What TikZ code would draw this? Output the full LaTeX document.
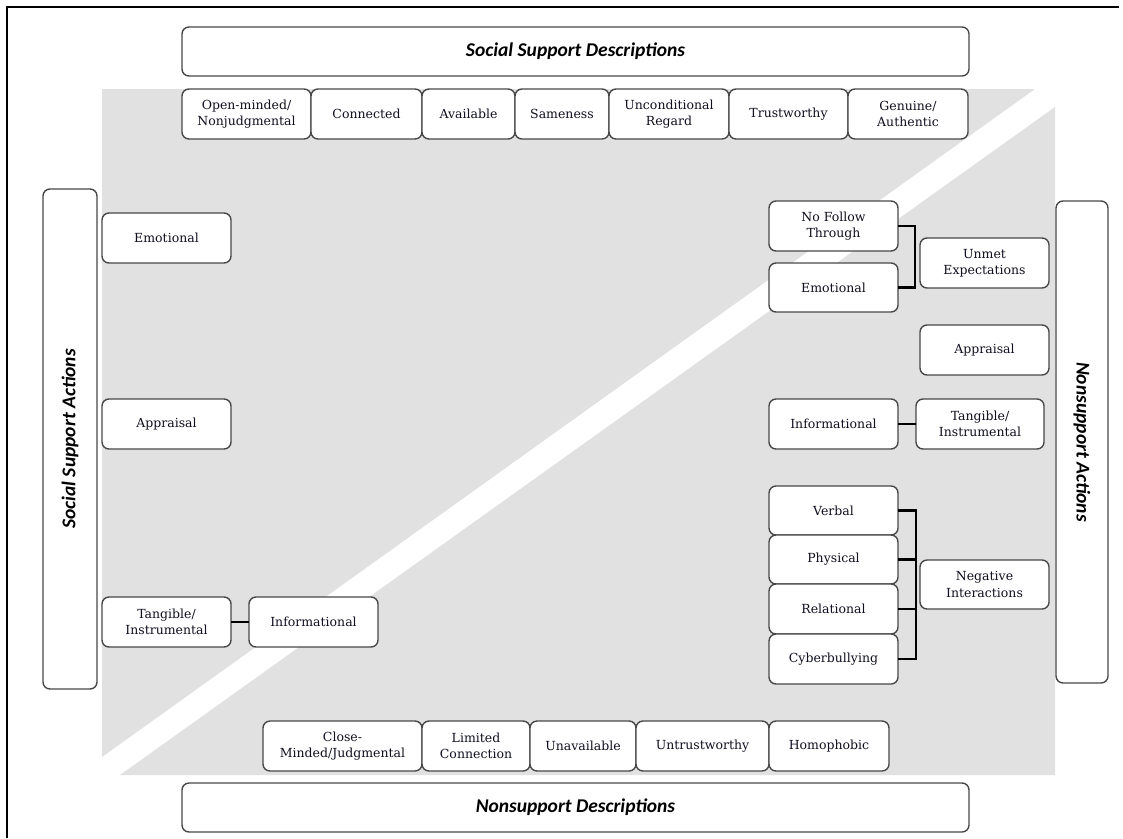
\documentclass[tikz,border=0pt]{standalone}
\usepackage{fontspec}
\setmainfont{DejaVu Serif}
\newfontfamily\headfont{Carlito}
\usetikzlibrary{positioning}
\definecolor{boxline}{HTML}{484848}
\definecolor{fieldgray}{HTML}{E1E1E1}
\definecolor{ink}{HTML}{101020}

\begin{document}
\begin{tikzpicture}[x=1pt,y=-1pt,
  box/.style={draw=boxline, fill=white, line width=1.4pt, rounded corners=7pt,
    align=center, inner sep=2pt, outer sep=0pt, minimum height=50pt,
    text=ink, font=\fontsize{12.5}{16.5}\selectfont},
  head/.style={box, text=black, font=\headfont\bfseries\itshape\fontsize{19.5}{23}\selectfont},
  link/.style={line width=2.6pt, black}]
  \useasboundingbox (0,0) rectangle (1123,838);
  \draw[line width=2.5pt] (7,838) -- (7,7) -- (1119,7);
  % shaded field with the white diagonal band
  \fill[fieldgray] (102,89) -- (1035,89) -- (102,757) -- cycle;
  \fill[fieldgray] (1055,107) -- (1055,775) -- (120,775) -- cycle;

  \node[head, minimum width=787pt, minimum height=49pt] (ssd) at (575.5,51.5) {Social Support Descriptions};
  \node[head, minimum width=787pt, minimum height=49pt] (nsd) at (575.5,807.5) {Nonsupport Descriptions};
  \node[head, rotate=90, minimum width=500pt, minimum height=54pt] (ssa) at (70,439) {Social Support Actions};
  \node[head, rotate=-90, minimum width=482pt, minimum height=52pt] (nsa) at (1082,442) {Nonsupport Actions};

  \node[box, minimum width=129pt] (om) at (246.5,114) {Open-minded/\\Nonjudgmental};
  \node[box, minimum width=111pt, right=0pt of om] (con) {Connected};
  \node[box, minimum width=93pt, right=0pt of con] (ava) {Available};
  \node[box, minimum width=94pt, right=0pt of ava] (same) {Sameness};
  \node[box, minimum width=120pt, right=0pt of same] (ucr) {Unconditional\\Regard};
  \node[box, minimum width=119pt, right=0pt of ucr] (tru) {Trustworthy};
  \node[box, minimum width=120pt, right=0pt of tru] (gen) {Genuine/\\Authentic};

  \node[box, minimum width=159pt] (cmj) at (342.5,746) {Close-\\Minded/Judgmental};
  \node[box, minimum width=108pt, right=0pt of cmj] (lim) {Limited\\Connection};
  \node[box, minimum width=106pt, right=0pt of lim] (una) {Unavailable};
  \node[box, minimum width=133pt, right=0pt of una] (untr) {Untrustworthy};
  \node[box, minimum width=120pt, right=0pt of untr] (hom) {Homophobic};

  \node[box, minimum width=129pt] (emol) at (166.5,238) {Emotional};
  \node[box, minimum width=129pt] (appl) at (166.5,424) {Appraisal};
  \node[box, minimum width=129pt] (tanl) at (166.5,622) {Tangible/\\Instrumental};
  \node[box, minimum width=129pt, right=18pt of tanl] (infl) {Informational};

  \node[box, minimum width=129pt] (nft) at (833.5,226) {No Follow\\Through};
  \node[box, minimum width=129pt, minimum height=49pt] (emor) at (833.5,287.5) {Emotional};
  \node[box, minimum width=129pt] (unm) at (984.5,263) {Unmet\\Expectations};
  \node[box, minimum width=129pt] (appr) at (984.5,350) {Appraisal};
  \node[box, minimum width=129pt] (infr) at (833.5,424) {Informational};
  \node[box, minimum width=128pt, right=18pt of infr] (tanr) {Tangible/\\Instrumental};
  \node[box, minimum width=129pt, minimum height=49pt] (verb) at (833.5,510.5) {Verbal};
  \node[box, minimum width=129pt, minimum height=49pt] (phys) at (833.5,559.5) {Physical};
  \node[box, minimum width=129pt] (rel) at (833.5,609) {Relational};
  \node[box, minimum width=129pt] (cyb) at (833.5,659) {Cyberbullying};
  \node[box, minimum width=129pt, minimum height=49pt] (neg) at (984.5,584.5) {Negative\\Interactions};

  \coordinate (ueb) at (915,257);
  \coordinate (nib) at (916,585);
  \draw[link] (tanl) -- (infl);
  \draw[link] (infr) -- (tanr);
  \draw[link] (nft.east) -| (ueb) |- (emor.east);
  \draw[link] (verb.east) -| (nib) |- (cyb.east);
  \draw[link] (phys.east) -- (phys.east -| nib);
  \draw[link] (rel.east) -- (rel.east -| nib);
\end{tikzpicture}
\end{document}
